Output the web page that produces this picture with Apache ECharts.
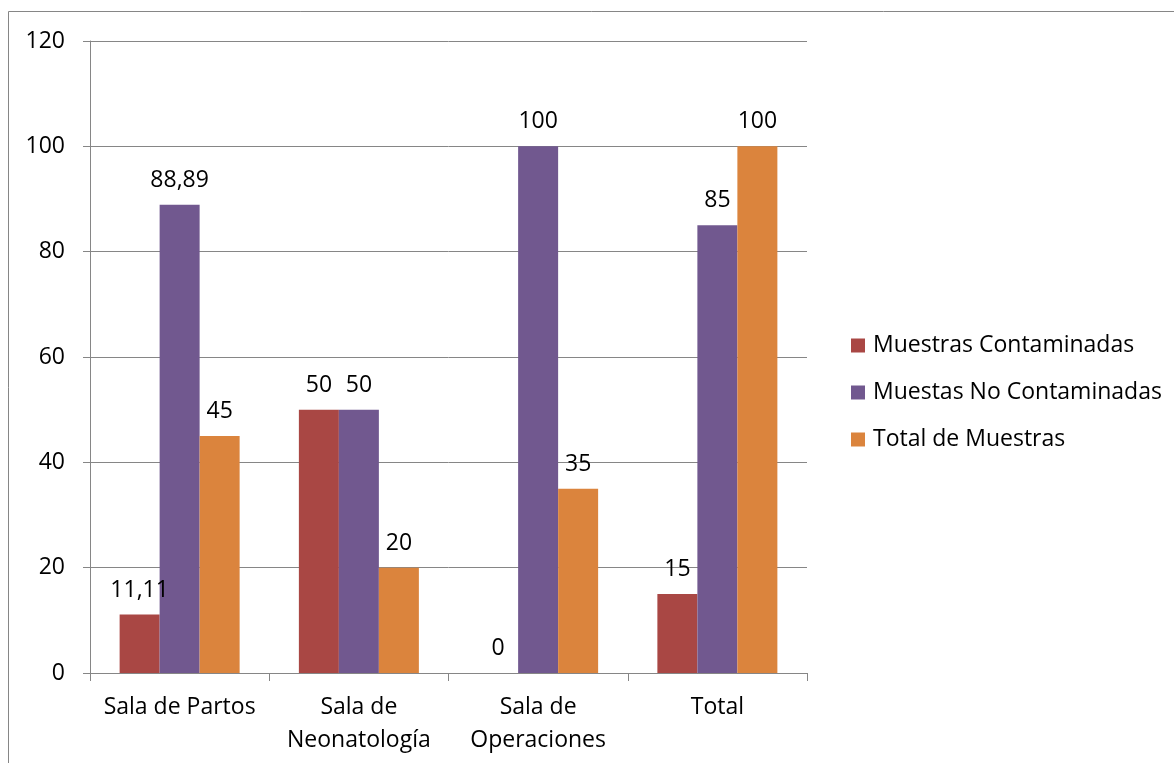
<!DOCTYPE html>
<html>
<head>
<meta charset="utf-8">
<script src="https://cdn.jsdelivr.net/npm/echarts@6/dist/echarts.min.js"></script>
<style>
html,body{margin:0;padding:0;background:#fff;}
#c{width:1174px;height:763px;}
</style>
</head>
<body>
<div id="c"></div>
<script>
const categories = ['Sala de Partos', 'Sala de\nNeonatología', 'Sala de\nOperaciones', 'Total'];
const seriesNames = ['Muestras Contaminadas', 'Muestas No Contaminadas', 'Total de Muestras'];
const contaminadas = [11.11, 50, 0, 15];
const noContaminadas = [88.89, 50, 100, 85];
const totalMuestras = [45, 20, 35, 100];
const yTicks = { min: 0, max: 120, interval: 20 };
const colors = ['#A94744', '#71588F', '#DB843D'];

const FONT = 'Open Sans';
const FS = 23;
const chart = echarts.init(document.getElementById('c'), null, { renderer: 'canvas' });
const lbl = {
  show: true, position: 'top', distance: 13,
  color: '#000', fontFamily: FONT, fontSize: FS,
  formatter: p => String(p.value).replace('.', ',')
};
const mk = (name, data, i) => ({
  name, type: 'bar', data, barWidth: 40, barGap: '0%', barCategoryGap: '33%',
  itemStyle: { color: colors[i] }, label: lbl
});
chart.setOption({
  animation: false,
  backgroundColor: '#fff',
  graphic: [{
    type: 'rect', shape: { x: 8.5, y: 11.5, width: 1200, height: 800 },
    style: { fill: 'none', stroke: '#868686', lineWidth: 1 }, silent: true, z: -10
  }],
  grid: { left: 90, right: 367, top: 41, bottom: 90, containLabel: false },
  legend: {
    orient: 'vertical', left: 851, top: 334, padding: 0, itemWidth: 14, itemHeight: 14, itemGap: 24,
    icon: 'rect',
    textStyle: { fontFamily: FONT, fontSize: FS, color: '#000', padding: [0, 0, 0, 3] },
    data: seriesNames
  },
  xAxis: {
    type: 'category', data: categories,
    axisLine: { lineStyle: { color: '#868686', width: 1 } },
    axisTick: { show: true, length: 8, alignWithLabel: false, lineStyle: { color: '#868686' } },
    axisLabel: { color: '#000', fontFamily: FONT, fontSize: FS, margin: 18, lineHeight: 33, interval: 0 }
  },
  yAxis: {
    type: 'value', min: yTicks.min, max: yTicks.max, interval: yTicks.interval,
    axisLine: { show: true, lineStyle: { color: '#868686', width: 1 } },
    axisTick: { show: true, length: 7, lineStyle: { color: '#868686' } },
    splitLine: { lineStyle: { color: '#868686', width: 1 } },
    axisLabel: { color: '#000', fontFamily: FONT, fontSize: FS, margin: 25 }
  },
  series: [
    mk(seriesNames[0], contaminadas, 0),
    mk(seriesNames[1], noContaminadas, 1),
    mk(seriesNames[2], totalMuestras, 2)
  ]
});
</script>
</body>
</html>
